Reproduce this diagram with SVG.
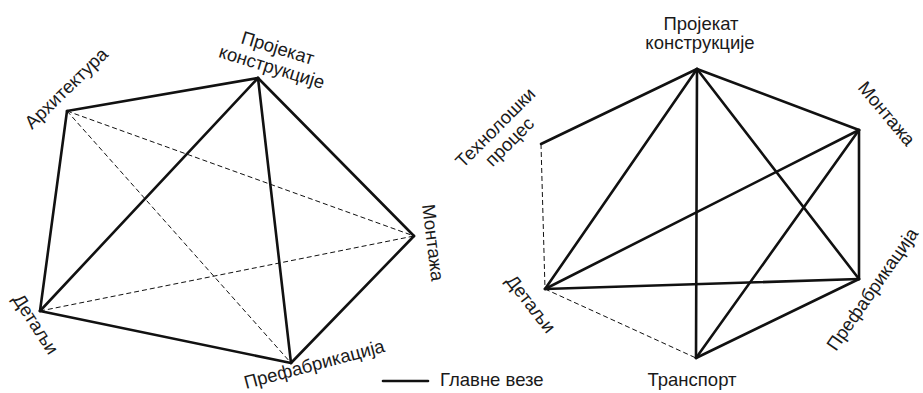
<svg xmlns="http://www.w3.org/2000/svg" width="923" height="393" viewBox="0 0 923 393">
<style>
  .main { stroke: #111; stroke-width: 2.6; fill: none; stroke-linecap: round; stroke-linejoin: round; }
  .dash { stroke: #111; stroke-width: 1; fill: none; stroke-dasharray: 5 3; }
  text { font-family: "Liberation Sans", Arial, sans-serif; font-size: 18.5px; fill: #1a1a1a; }
  .mid { text-anchor: middle; }
</style>
<rect width="923" height="393" fill="#fff"/>
<g id="connectors">
  <!-- left diagram -->
  <line class="dash" x1="67" y1="111" x2="414" y2="236"/>
  <line class="dash" x1="67" y1="111" x2="291" y2="363"/>
  <line class="dash" x1="40" y1="311" x2="414" y2="236"/>
  <line class="main" x1="67" y1="111" x2="258" y2="78"/>
  <line class="main" x1="67" y1="111" x2="40" y2="311"/>
  <line class="main" x1="258" y1="78" x2="40" y2="311"/>
  <line class="main" x1="258" y1="78" x2="291" y2="363"/>
  <line class="main" x1="258" y1="78" x2="414" y2="236"/>
  <line class="main" x1="414" y1="236" x2="291" y2="363"/>
  <line class="main" x1="40" y1="311" x2="291" y2="363"/>
  <!-- right diagram -->
  <line class="dash" x1="541" y1="144" x2="545" y2="289"/>
  <line class="dash" x1="545" y1="289" x2="696" y2="358"/>
  <line class="main" x1="697" y1="69" x2="541" y2="144"/>
  <line class="main" x1="697" y1="69" x2="545" y2="289"/>
  <line class="main" x1="697" y1="69" x2="696" y2="358"/>
  <line class="main" x1="697" y1="69" x2="859" y2="279"/>
  <line class="main" x1="697" y1="69" x2="859" y2="130"/>
  <line class="main" x1="859" y1="130" x2="545" y2="289"/>
  <line class="main" x1="859" y1="130" x2="696" y2="358"/>
  <line class="main" x1="859" y1="130" x2="859" y2="279"/>
  <line class="main" x1="545" y1="289" x2="859" y2="279"/>
  <line class="main" x1="859" y1="279" x2="696" y2="358"/>
</g>
<g id="left-arhitektura"><text transform="translate(32,130) rotate(-44)">Архитектура</text></g>
<g id="left-projekat" transform="translate(270,73) rotate(17)">
  <text class="mid" y="-20">Пројекат</text>
  <text class="mid" y="0">конструкције</text>
</g>
<g id="left-montaza"><text transform="translate(422,205) rotate(83)">Монтажа</text></g>
<g id="left-detalji"><text transform="translate(12,299) rotate(57)">Детаљи</text></g>
<g id="left-prefabrikacija"><text transform="translate(246,389) rotate(-15)">Префабрикација</text></g>
<g id="right-projekat">
  <text class="mid" x="701" y="29.5">Пројекат</text>
  <text class="mid" x="700" y="49">конструкције</text>
</g>
<g id="right-montaza"><text transform="translate(857,88) rotate(50)">Монтажа</text></g>
<g id="right-tehnoloski" transform="translate(514,146) rotate(-45)">
  <text class="mid" y="-20">Технолошки</text>
  <text class="mid" y="0">процес</text>
</g>
<g id="right-detalji"><text transform="translate(505,281) rotate(52)">Детаљи</text></g>
<g id="right-prefabrikacija"><text transform="translate(836,352) rotate(-55)">Префабрикација</text></g>
<g id="right-transport"><text class="mid" x="692" y="386">Транспорт</text></g>
<g id="legend">
  <line class="main" x1="383" y1="381" x2="428" y2="381" stroke-linecap="butt"/>
  <text x="440" y="386">Главне везе</text>
</g>
</svg>
